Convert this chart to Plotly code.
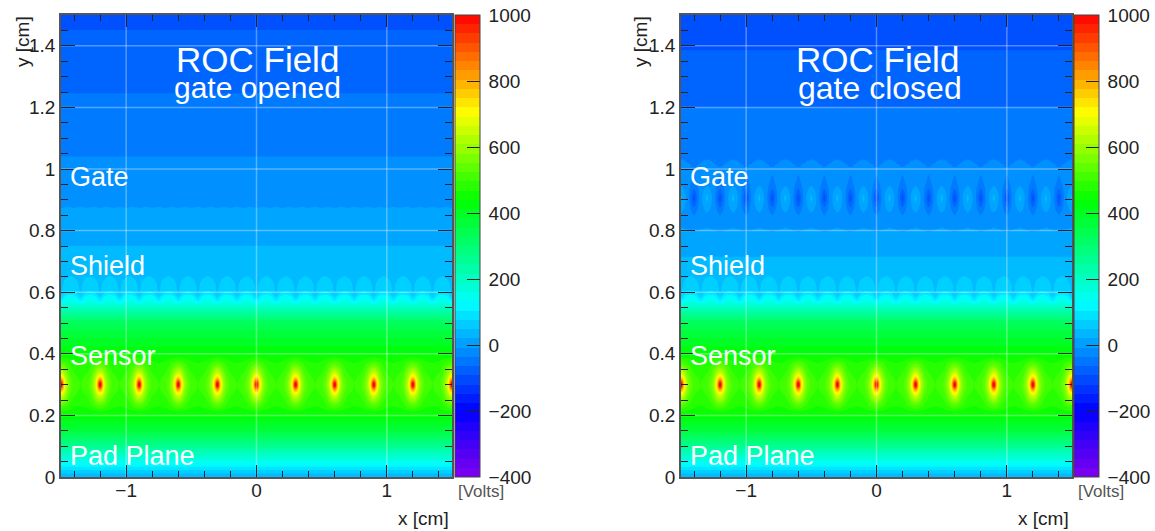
import numpy as np
import plotly.graph_objects as go

W, H = 1155, 531
FONT = "Liberation Sans"

# --- potential (volts) ---
BASE_Y_LOW = [0, .01, .03, .05, .07, .1, .15, .2013, .3, .3994, .45, .5, .5487, .57, .585, .6, .615, .63, .645, .66, .6818]
BASE_V_LOW = [22, 45, 95, 145, 190, 260, 365, 438, 490, 438, 385, 330, 205, 135, 90, 70, 58, 50, 44, 38, 30]
OPEN_Y_HIGH = [.7, .75, .8, .8604, .8896, .95, 1.04, 1.1, 1.245, 1.35, 1.45, 1.5]
OPEN_V_HIGH = [26, 20, 8, -5, -11, -20, -36, -44, -64, -78, -92, -99]
CLOSED_Y_HIGH = [.715, .7468, .78, .805, .83, .9, .96, 1.005, 1.03, 1.0649, 1.2, 1.3, 1.385, 1.5]
CLOSED_V_HIGH = [20, 9, -2, -9, -15, -22, -24, -34, -37.5, -42, -64, -79, -92, -108]

# Sensor wires: rows run up through the wire plane, columns are distance from a wire
SENSOR_Y = [.2013, .23, .25, .265, .275, .282, .288, .294, .3,
            .306, .312, .318, .325, .335, .35, .37, .3994]
SENSOR_DX = [0, .006, .012, .018, .025, .035, .05, .07, .1, .15]
SENSOR_V = [  # rows by |y-0.3|: 0 .006 .012 .018 .025 .035 .05 .07 .1
    [1150, 1020, 900, 810, 740, 670, 600, 550, 510, 495],
    [1020, 975, 885, 800, 735, 667, 598, 548, 509, 495],
    [900, 885, 835, 775, 720, 660, 595, 545, 508, 494],
    [810, 800, 775, 745, 695, 645, 585, 538, 505, 492],
    [740, 735, 720, 695, 670, 625, 575, 530, 502, 490],
    [670, 667, 660, 645, 625, 595, 560, 520, 497, 486],
    [600, 598, 595, 585, 575, 560, 530, 505, 486, 477],
    [520, 519, 517, 514, 510, 505, 498, 488, 476, 468],
    [438, 438, 438, 438, 438, 438, 438, 438, 438, 438],
]

# Shield wires: columns run from the gap to the middle of an arch
SHIELD_Y = [.5487, .57, .585, .6, .615, .63, .645, .66, .6818]
SHIELD_DX = [0, .015, .035, .055, .075]
SHIELD_V = [
    [205, 205, 205, 205, 205],
    [110, 125, 142, 148, 150],
    [62, 82, 112, 122, 125],
    [45, 55, 72, 78, 80],
    [40, 50, 59, 63, 64],
    [36, 47, 54, 57, 58],
    [33, 41, 47, 49, 50],
    [31, 34, 40, 44, 45],
    [30, 30, 30, 30, 30],
]

# Closed gate wires: columns run from a dark wire to a light wire
GATE_Y = [.7468, .78, .805, .825, .843, .855, .865, .875, .885, .893, .905,
          .917, .925, .935, .945, .955, .967, .985, 1.005, 1.03, 1.0649]
GATE_BASE = [9, -2, -9, -14, -18, -19, -20, -20.5, -21, -21.5, -22,
             -22, -22.5, -23, -23.5, -24, -25.5, -29, -34, -37.5, -42]
GATE_DX = [0, .008, .016, .024, .032, .04, .05, .06, .07, .08, .09, .1]
GATE_DELTA = [  # rows by |y-0.905|: 0 .012 .02 .03 .04 .05 .062 .08 .1 .125 .16
    [-88, -70, -50, -36, -20, -11, -2, 12, 22, 32, 40, 54],
    [-70, -60, -45, -32, -18, -10, -2, 10, 19, 27, 33, 42],
    [-56, -50, -38, -27, -16, -9, -2, 8, 15, 21, 26, 30],
    [-42, -37, -29, -21, -13, -7, -1, 6, 11, 16, 19, 22],
    [-30, -26, -21, -15, -9, -5, -1, 4, 8, 11, 13, 15],
    [-21, -18, -14, -10, -6, -3, 0, 3, 5, 7, 8, 9],
    [-14, -12, -9, -6, -4, -2, 0, 2, 3, 4, 5, 5],
    [-6, -5, -4, -3, -2, -1, 0, 1, 1, 2, 2, 2],
    [-2, -2, -2, -1, -1, -1, 0, 1, 1, 1, 2, 2],
    [-1, -1, -1, -.5, -.5, 0, 0, .5, 1, 1, 1.5, 1.5],
    [0, 0, 0, 0, 0, 0, 0, 0, 0, 0, 0, 0],
]

# Open gate: barely visible ripple on one band edge
RIPPLE_Y = [.8604, .875, .8896]
RIPPLE_DX = [0, .025, .05]
RIPPLE_V = [[-5, -5, -5], [-8.5, -8, -7.5], [-11, -11, -11]]

X_TICKS = [-1, 0, 1]
Y_TICKS = [0, .2, .4, .6, .8, 1, 1.2, 1.4]
Y_LABELS = ["0", "0.2", "0.4", "0.6", "0.8", "1", "1.2", "1.4"]
BAR_TICKS = [-400, -200, 0, 200, 400, 600, 800, 1000]
BAR_LABELS = ["\u2009\u2212400", "\u2009\u2212200", "\u20090", "\u2009200", "\u2009400", "\u2009600", "\u2009800", "\u20091000"]

STOP_T = [0, .143, .376, .6, .788, 1]
STOP_R = [130, 0, 0, 0, 255, 255]
STOP_G = [0, 0, 255, 255, 255, 0]
STOP_B = [240, 255, 255, 0, 0, 0]
COLORSCALE = [[t, f"rgb({r},{g},{b})"] for t, r, g, b in zip(STOP_T, STOP_R, STOP_G, STOP_B)]
N_BANDS = 50
CONTOURS = dict(start=-400, end=1000, size=28, coloring="fill", showlines=False)
EPS = 0.13

STEPPED = []
for k in range(N_BANDS):
    t = (k + .5) / N_BANDS
    c = "rgb(%d,%d,%d)" % (np.interp(t, STOP_T, STOP_R), np.interp(t, STOP_T, STOP_G), np.interp(t, STOP_T, STOP_B))
    STEPPED += [[k / N_BANDS, c], [(k + 1) / N_BANDS, c]]


def tile(offsets, table, start, count, period):
    n = len(offsets)
    xs, idx = [], []
    for k in range(count):
        c = start + k * period
        for j in range(n - 1):
            xs.append(c + offsets[j]); idx.append(j)
        for j in range(n - 1, 0, -1):
            xs.append(c + period - offsets[j]); idx.append(j)
    xs.append(start + count * period); idx.append(0)
    return xs, np.asarray(table, float)[:, idx]


fig = go.Figure()


def contour(x, y, z, xa, ya):
    fig.add_trace(go.Contour(x=x, y=y, z=np.asarray(z, float) + EPS, xaxis=xa, yaxis=ya,
                             colorscale=COLORSCALE, autocontour=False, contours=CONTOURS,
                             line=dict(width=0), hoverinfo="skip", showscale=False))


def panel(xa, ya, y_high, v_high, bar_left, gate):
    ys = BASE_Y_LOW + y_high
    vs = BASE_V_LOW + v_high
    contour([-1.5, 0, 1.5], ys, [[v, v, v] for v in vs], xa, ya)
    # sensor wires
    x, z = tile(SENSOR_DX, SENSOR_V[::-1] + SENSOR_V[1:], -1.5, 10, .3)
    contour(x, SENSOR_Y, z, xa, ya)
    # shield wires
    x, z = tile(SHIELD_DX, SHIELD_V, -1.5, 20, .15)
    contour(x, SHIELD_Y, z, xa, ya)
    # gate wires
    if gate:
        d = np.vstack([np.array(GATE_DELTA[::-1]), np.array(GATE_DELTA[1:])])
        g = np.array(GATE_BASE)[:, None] + d
        x, z = tile(GATE_DX, g, -1.6, 16, .2)
        contour(x, GATE_Y, z, xa, ya)
    else:
        x, z = tile(RIPPLE_DX, RIPPLE_V, -1.5, 30, .1)
        contour(x, RIPPLE_Y, z, xa, ya)
    for t in X_TICKS:
        fig.add_trace(go.Scatter(x=[t, t], y=[0, 1.5], xaxis=xa, yaxis=ya, mode="lines",
                                 line=dict(color="rgba(255,255,255,0.33)", width=1.5),
                                 hoverinfo="skip", showlegend=False))
    for t in Y_TICKS[1:]:
        fig.add_trace(go.Scatter(x=[-1.5, 1.5], y=[t, t], xaxis=xa, yaxis=ya, mode="lines",
                                 line=dict(color="rgba(255,255,255,0.33)", width=1.5),
                                 hoverinfo="skip", showlegend=False))
    # colour key of the panel
    bar = dict(x=bar_left / W, xanchor="left", y=1 - 15 / H, yanchor="top",
               len=462, lenmode="pixels", thickness=25, thicknessmode="pixels",
               xpad=0, ypad=0, outlinewidth=1, outlinecolor="#444", borderwidth=0,
               tickmode="array", tickvals=BAR_TICKS, ticktext=BAR_LABELS, ticks="inside", ticklen=13,
               tickcolor="#222", tickwidth=1.2,
               tickfont=dict(family=FONT, size=19, color="#222"))
    fig.add_trace(go.Scatter(x=[0], y=[-1], xaxis=xa, yaxis=ya, mode="markers", hoverinfo="skip",
                             showlegend=False,
                             marker=dict(color=[0], cmin=-400, cmax=1000, colorscale=STEPPED,
                                         showscale=True, colorbar=bar)))


panel("x", "y", OPEN_Y_HIGH, OPEN_V_HIGH, 455, False)
panel("x2", "y2", CLOSED_Y_HIGH, CLOSED_V_HIGH, 1074, True)

ydom = [(H - 477) / H, (H - 15) / H]
common = dict(showgrid=False, zeroline=False, showline=True, linecolor="#555", linewidth=1.5,
              mirror="allticks", ticks="inside", tickcolor="#222", tickwidth=1.2,
              tickfont=dict(family=FONT, size=19, color="#222"))
xaxis = dict(range=[-1.5, 1.5], tickmode="array", tickvals=X_TICKS, ticklen=12, ticklabelstandoff=-5,
             minor=dict(dtick=.2, tick0=0, ticks="inside", ticklen=6, tickcolor="#222", tickwidth=1.2), **common)
yaxis = dict(range=[0, 1.5], tickmode="array", tickvals=Y_TICKS, ticktext=Y_LABELS, ticklen=14,
             ticklabelstandoff=0,
             minor=dict(dtick=.05, tick0=0, ticks="inside", ticklen=7, tickcolor="#222", tickwidth=1.2), **common)
fig.update_layout(
    width=W, height=H, margin=dict(l=0, r=0, t=0, b=0, autoexpand=False),
    paper_bgcolor="white", plot_bgcolor="white", showlegend=False,
    xaxis=dict(domain=[61 / W, 452 / W], anchor="y", **xaxis),
    yaxis=dict(domain=ydom, anchor="x", **yaxis),
    xaxis2=dict(domain=[681 / W, 1072 / W], anchor="y2", **xaxis),
    yaxis2=dict(domain=ydom, anchor="x2", **yaxis),
)


def note(text, px, py, size, color="white", anchor="center", angle=0):
    fig.add_annotation(text=text, x=px / W, y=1 - py / H, xref="paper", yref="paper",
                       xanchor=anchor, yanchor="middle", showarrow=False, textangle=angle,
                       font=dict(family=FONT, size=size, color=color))


for off, sub, sub_size, sub_x in [(0, "gate opened", 30, 257), (620, "gate closed", 32, 880)]:
    note("ROC Field", 257 + off, 60, 35)
    note(sub, sub_x, 88, sub_size)
    note("Gate", 68 + off, 177, 27, anchor="left")
    note("Shield", 68 + off, 266, 27, anchor="left")
    note("Sensor", 68 + off, 356, 27, anchor="left")
    note("Pad Plane", 68 + off, 456, 27, anchor="left")
    note("x [cm]", 451 + off, 518, 19, color="#222", anchor="right")
    note("y [cm]", 22 + off - (2 if off else 0), 42, 19, color="#222", angle=-90)
    note("[Volts]", 482 + off - 1, 491, 17, color="#555")

fig.write_html("out.html", config={"displayModeBar": False},
               post_script="document.body.style.margin='0';document.documentElement.style.overflow='hidden';")
